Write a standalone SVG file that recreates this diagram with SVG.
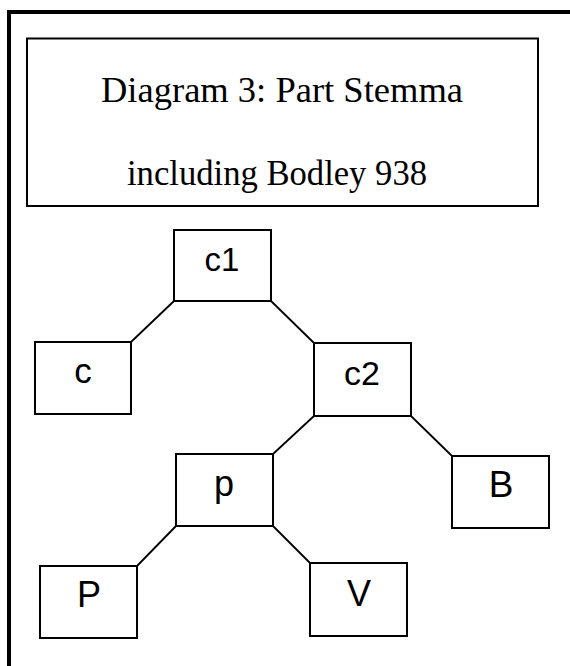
<svg xmlns="http://www.w3.org/2000/svg" width="570" height="666" viewBox="0 0 570 666">
<style>
.box{fill:#fff;stroke:#000;stroke-width:2}
.lbl{font-family:"Liberation Sans",Arial,sans-serif;text-anchor:middle;fill:#000}
.ttl{font-family:"Liberation Serif","Times New Roman",serif;font-size:35px;fill:#000}
.edge{stroke:#000;stroke-width:1.8;fill:none}
</style>
<rect x="0" y="0" width="570" height="666" fill="#fff"/>
<rect x="9" y="12" width="620" height="720" fill="none" stroke="#000" stroke-width="4"/>
<g id="title">
<rect x="27" y="38.5" width="511" height="167.5" fill="#fff" stroke="#000" stroke-width="2"/>
<text class="ttl" x="101" y="102" textLength="362" lengthAdjust="spacingAndGlyphs">Diagram 3: Part Stemma</text>
<text class="ttl" x="127" y="185" textLength="300" lengthAdjust="spacingAndGlyphs">including Bodley 938</text>
</g>
<g id="connectors">
<line class="edge" x1="174" y1="301" x2="131" y2="342"/>
<line class="edge" x1="271" y1="301" x2="314" y2="343"/>
<line class="edge" x1="314" y1="416" x2="273" y2="454"/>
<line class="edge" x1="411" y1="416" x2="452" y2="456"/>
<line class="edge" x1="176" y1="526" x2="137" y2="566"/>
<line class="edge" x1="273" y1="526" x2="310" y2="563"/>
</g>
<g id="node-c1">
<rect class="box" x="174" y="230" width="97" height="71"/>
<text class="lbl" x="222" y="271" font-size="33">c1</text>
</g>
<g id="node-c">
<rect class="box" x="35" y="342" width="96" height="72"/>
<text class="lbl" x="83" y="383" font-size="35">c</text>
</g>
<g id="node-c2">
<rect class="box" x="314" y="343" width="97" height="73"/>
<text class="lbl" x="362" y="385" font-size="34">c2</text>
</g>
<g id="node-p">
<rect class="box" x="176" y="454" width="97" height="72"/>
<text class="lbl" x="224" y="496" font-size="36">p</text>
</g>
<g id="node-B">
<rect class="box" x="452" y="456" width="97" height="72"/>
<text class="lbl" x="501" y="497" font-size="37">B</text>
</g>
<g id="node-P">
<rect class="box" x="40" y="566" width="97" height="72"/>
<text class="lbl" x="89" y="607" font-size="36">P</text>
</g>
<g id="node-V">
<rect class="box" x="310" y="563" width="97" height="73"/>
<text class="lbl" x="359" y="606" font-size="36">V</text>
</g>
</svg>
